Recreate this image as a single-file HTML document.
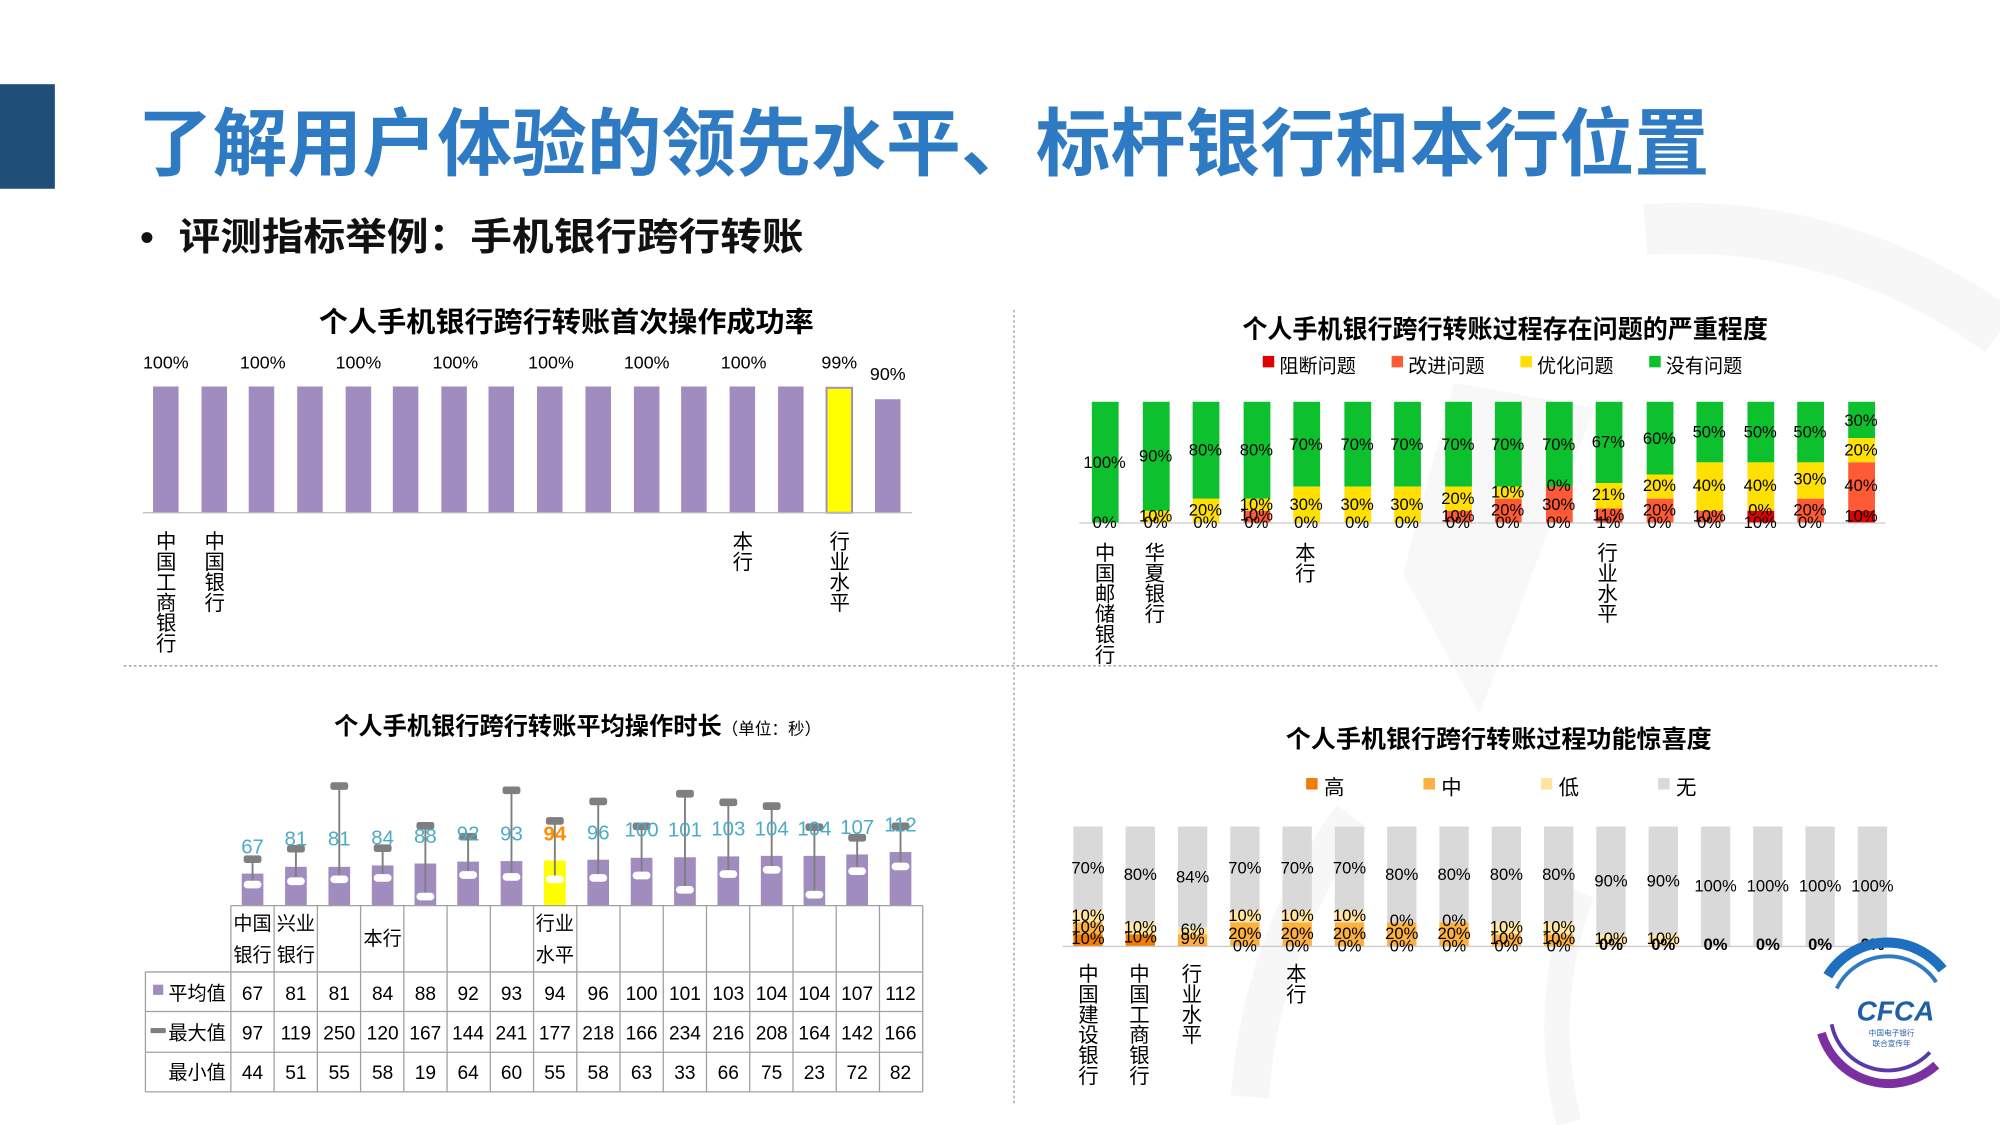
<!DOCTYPE html>
<html><head><meta charset="utf-8"><style>
html,body{margin:0;padding:0;background:#fff;}
svg{display:block;font-family:"Liberation Sans","Noto Sans CJK SC",sans-serif;}
.v{writing-mode:vertical-rl;font-size:16px;fill:#000;}
.s{font-size:13px;fill:#000;text-anchor:middle;}
.t{font-size:15px;fill:#000;text-anchor:middle;}
.l{font-size:16px;fill:#4bacc6;text-anchor:middle;}
</style></head><body>
<svg width="2000" height="1125" viewBox="0 0 1568 882" xmlns="http://www.w3.org/2000/svg">
<rect width="1568" height="882" fill="#fff"/>
<g fill="none" stroke="#f7f7f7">
<path d="M1290 180 A420 420 0 0 1 1568 260" stroke-width="40"/>
<path d="M1100 450 L1140 300 L1250 320 L1160 560 Z" fill="#f8f8f8" stroke="none"/>
<path d="M980 860 A420 420 0 0 1 1060 640" stroke-width="30"/>
<path d="M1230 880 A300 300 0 0 1 1240 700" stroke-width="20"/>
</g>
<rect x="0" y="66" width="43" height="82" fill="#1f4e79"/>
<text x="108" y="133" font-size="58" font-weight="bold" fill="#2e7bc4" textLength="1232" lengthAdjust="spacingAndGlyphs">了解用户体验的领先水平、标杆银行和本行位置</text>
<text x="110" y="196" font-size="30" font-weight="bold" fill="#111">•</text>
<text x="140" y="196" font-size="30" font-weight="bold" fill="#111" textLength="490" lengthAdjust="spacingAndGlyphs">评测指标举例：手机银行跨行转账</text>
<line x1="97" y1="522" x2="1520" y2="522" stroke="#999" stroke-dasharray="2,2"/>
<line x1="795" y1="243" x2="795" y2="865" stroke="#999" stroke-dasharray="2,2"/>

<!-- Chart 1 -->
<text x="444" y="260" font-size="22" font-weight="bold" text-anchor="middle" textLength="388" lengthAdjust="spacingAndGlyphs">个人手机银行跨行转账首次操作成功率</text>
<g fill="#a08cbf">
<rect x="120" y="303" width="20" height="99"/><rect x="158" y="303" width="20" height="99"/><rect x="195" y="303" width="20" height="99"/><rect x="233" y="303" width="20" height="99"/><rect x="271" y="303" width="20" height="99"/><rect x="308" y="303" width="20" height="99"/><rect x="346" y="303" width="20" height="99"/><rect x="383" y="303" width="20" height="99"/><rect x="421" y="303" width="20" height="99"/><rect x="459" y="303" width="20" height="99"/><rect x="497" y="303" width="20" height="99"/><rect x="534" y="303" width="20" height="99"/><rect x="572" y="303" width="20" height="99"/><rect x="610" y="303" width="20" height="99"/><rect x="686" y="313" width="20" height="89"/>
</g>
<rect x="648" y="304" width="20" height="98" fill="#ffff00" stroke="#a08cbf" stroke-width="1.5"/>
<line x1="112" y1="402" x2="715" y2="402" stroke="#bbb"/>
<g font-size="14" text-anchor="middle">
<text x="130" y="289">100%</text><text x="206" y="289">100%</text><text x="281" y="289">100%</text><text x="357" y="289">100%</text><text x="432" y="289">100%</text><text x="507" y="289">100%</text><text x="583" y="289">100%</text><text x="658" y="289">99%</text><text x="696" y="298">90%</text>
</g>
<text class="v" x="128" y="416">中国工商银行</text>
<text class="v" x="166" y="416">中国银行</text>
<text class="v" x="580" y="416">本行</text>
<text class="v" x="656" y="416">行业水平</text>

<!-- Chart 2 -->
<text x="1180" y="265" font-size="20" font-weight="bold" text-anchor="middle" textLength="412" lengthAdjust="spacingAndGlyphs">个人手机银行跨行转账过程存在问题的严重程度</text>
<g font-size="15">
<rect x="990" y="279" width="9" height="9" fill="#e00000"/><text x="1003" y="292">阻断问题</text>
<rect x="1091" y="279" width="9" height="9" fill="#ff5a36"/><text x="1104" y="292">改进问题</text>
<rect x="1192" y="279" width="9" height="9" fill="#ffe000"/><text x="1205" y="292">优化问题</text>
<rect x="1293" y="279" width="9" height="9" fill="#0cc02e"/><text x="1306" y="292">没有问题</text>
</g>
<g fill="#0cc02e">
<rect x="856" y="315" width="21" height="95"/><rect x="896" y="315" width="21" height="85.5"/><rect x="935" y="315" width="21" height="76"/><rect x="975" y="315" width="21" height="76"/><rect x="1014" y="315" width="21" height="66.5"/><rect x="1054" y="315" width="21" height="66.5"/><rect x="1093" y="315" width="21" height="66.5"/><rect x="1133" y="315" width="21" height="66.5"/><rect x="1172" y="315" width="21" height="66.5"/><rect x="1212" y="315" width="21" height="66.5"/><rect x="1251" y="315" width="21" height="63.7"/><rect x="1291" y="315" width="21" height="57"/><rect x="1330" y="315" width="21" height="47.5"/><rect x="1370" y="315" width="21" height="47.5"/><rect x="1409" y="315" width="21" height="47.5"/><rect x="1449" y="315" width="21" height="28.5"/>
</g>
<g fill="#ffe000">
<rect x="896" y="400.5" width="21" height="9.5"/><rect x="935" y="391" width="21" height="19"/><rect x="975" y="391" width="21" height="9.5"/><rect x="1014" y="381.5" width="21" height="28.5"/><rect x="1054" y="381.5" width="21" height="28.5"/><rect x="1093" y="381.5" width="21" height="28.5"/><rect x="1133" y="381.5" width="21" height="19"/><rect x="1172" y="381.5" width="21" height="9.5"/><rect x="1251" y="378.7" width="21" height="19.9"/><rect x="1291" y="372" width="21" height="19"/><rect x="1330" y="362.5" width="21" height="38"/><rect x="1370" y="362.5" width="21" height="38"/><rect x="1409" y="362.5" width="21" height="28.5"/><rect x="1449" y="343.5" width="21" height="19"/>
</g>
<g fill="#ff5a36">
<rect x="975" y="400.5" width="21" height="9.5"/><rect x="1133" y="400.5" width="21" height="9.5"/><rect x="1172" y="391" width="21" height="19"/><rect x="1212" y="381.5" width="21" height="28.5"/><rect x="1251" y="398.6" width="21" height="10.4"/><rect x="1291" y="391" width="21" height="19"/><rect x="1330" y="400.5" width="21" height="9.5"/><rect x="1409" y="391" width="21" height="19"/><rect x="1449" y="362.5" width="21" height="38"/>
</g>
<g fill="#e00000">
<rect x="1251" y="409" width="21" height="1"/><rect x="1370" y="400.5" width="21" height="9.5"/><rect x="1449" y="400.5" width="21" height="9.5"/>
</g>
<line x1="846" y1="410" x2="1478" y2="410" stroke="#ccc"/>
<g>
<text class="s" x="866" y="367">100%</text><text class="s" x="906" y="362">90%</text><text class="s" x="945" y="357">80%</text><text class="s" x="985" y="357">80%</text><text class="s" x="1024" y="353">70%</text><text class="s" x="1064" y="353">70%</text><text class="s" x="1103" y="353">70%</text><text class="s" x="1143" y="353">70%</text><text class="s" x="1182" y="353">70%</text><text class="s" x="1222" y="353">70%</text><text class="s" x="1261" y="351">67%</text><text class="s" x="1301" y="348">60%</text><text class="s" x="1340" y="343">50%</text><text class="s" x="1380" y="343">50%</text><text class="s" x="1419" y="343">50%</text><text class="s" x="1459" y="334">30%</text>
<text class="s" x="906" y="409">10%</text><text class="s" x="945" y="404">20%</text><text class="s" x="985" y="400">10%</text><text class="s" x="985" y="408">10%</text><text class="s" x="1024" y="400">30%</text><text class="s" x="1064" y="400">30%</text><text class="s" x="1103" y="400">30%</text><text class="s" x="1143" y="395">20%</text><text class="s" x="1143" y="409">10%</text><text class="s" x="1182" y="390">10%</text><text class="s" x="1182" y="404">20%</text><text class="s" x="1222" y="385">0%</text><text class="s" x="1222" y="400">30%</text><text class="s" x="1261" y="392">21%</text><text class="s" x="1261" y="408">11%</text><text class="s" x="1301" y="385">20%</text><text class="s" x="1301" y="404">20%</text><text class="s" x="1340" y="385">40%</text><text class="s" x="1340" y="409">10%</text><text class="s" x="1380" y="385">40%</text><text class="s" x="1380" y="404">0%</text><text class="s" x="1419" y="380">30%</text><text class="s" x="1419" y="404">20%</text><text class="s" x="1459" y="357">20%</text><text class="s" x="1459" y="385">40%</text><text class="s" x="1459" y="409">10%</text>
<text class="s" x="866" y="414">0%</text><text class="s" x="906" y="414">0%</text><text class="s" x="945" y="414">0%</text><text class="s" x="985" y="414">0%</text><text class="s" x="1024" y="414">0%</text><text class="s" x="1064" y="414">0%</text><text class="s" x="1103" y="414">0%</text><text class="s" x="1143" y="414">0%</text><text class="s" x="1182" y="414">0%</text><text class="s" x="1222" y="414">0%</text><text class="s" x="1261" y="414">1%</text><text class="s" x="1301" y="414">0%</text><text class="s" x="1340" y="414">0%</text><text class="s" x="1380" y="414">10%</text><text class="s" x="1419" y="414">0%</text>
</g>
<text class="v" x="864" y="425">中国邮储银行</text>
<text class="v" x="903" y="425">华夏银行</text>
<text class="v" x="1021" y="425">本行</text>
<text class="v" x="1258" y="425">行业水平</text>

<!-- Chart 3 -->
<text x="262" y="576" font-size="19" font-weight="bold">个人手机银行跨行转账平均操作时长<tspan font-size="13" font-weight="normal">（单位：秒）</tspan></text>
<g fill="#a08cbf">
<rect x="189.5" y="684.9" width="17" height="25.1"/><rect x="223.5" y="679.6" width="17" height="30.4"/><rect x="257.5" y="679.6" width="17" height="30.4"/><rect x="291.5" y="678.5" width="17" height="31.5"/><rect x="325" y="677" width="17" height="33"/><rect x="358.5" y="675.5" width="17" height="34.5"/><rect x="392.5" y="675.1" width="17" height="34.9"/><rect x="460.5" y="674" width="17" height="36"/><rect x="494.5" y="672.5" width="17" height="37.5"/><rect x="528.5" y="672.1" width="17" height="37.9"/><rect x="562.5" y="671.4" width="17" height="38.6"/><rect x="596.5" y="671" width="17" height="39"/><rect x="630" y="671" width="17" height="39"/><rect x="663.5" y="669.9" width="17" height="40.1"/><rect x="697.5" y="668" width="17" height="42"/>
</g>
<rect x="426.5" y="674.7" width="17" height="35.3" fill="#ffff00"/>
<g stroke="#7f7f7f" stroke-width="1.5">
<line x1="198" y1="673.6" x2="198" y2="693.5"/><line x1="232" y1="665.4" x2="232" y2="690.9"/><line x1="266" y1="616.3" x2="266" y2="689.4"/><line x1="300" y1="665" x2="300" y2="688.3"/><line x1="333.5" y1="647.4" x2="333.5" y2="702.9"/><line x1="367" y1="656" x2="367" y2="686"/><line x1="401" y1="619.6" x2="401" y2="687.5"/><line x1="435" y1="643.6" x2="435" y2="689.4"/><line x1="469" y1="628.3" x2="469" y2="688.3"/><line x1="503" y1="647.8" x2="503" y2="686.4"/><line x1="537" y1="622.3" x2="537" y2="697.6"/><line x1="571" y1="629" x2="571" y2="685.3"/><line x1="605" y1="632" x2="605" y2="681.9"/><line x1="638.5" y1="648.5" x2="638.5" y2="701.4"/><line x1="672" y1="656.8" x2="672" y2="683"/><line x1="706" y1="647.8" x2="706" y2="679.3"/>
</g>
<g fill="#7f7f7f">
<rect x="191" y="670.6" width="14" height="6" rx="2"/><rect x="225" y="662.4" width="14" height="6" rx="2"/><rect x="259" y="613.3" width="14" height="6" rx="2"/><rect x="293" y="662" width="14" height="6" rx="2"/><rect x="326.5" y="644.4" width="14" height="6" rx="2"/><rect x="360" y="653" width="14" height="6" rx="2"/><rect x="394" y="616.6" width="14" height="6" rx="2"/><rect x="428" y="640.6" width="14" height="6" rx="2"/><rect x="462" y="625.3" width="14" height="6" rx="2"/><rect x="496" y="644.8" width="14" height="6" rx="2"/><rect x="530" y="619.3" width="14" height="6" rx="2"/><rect x="564" y="626" width="14" height="6" rx="2"/><rect x="598" y="629" width="14" height="6" rx="2"/><rect x="631.5" y="645.5" width="14" height="6" rx="2"/><rect x="665" y="653.8" width="14" height="6" rx="2"/><rect x="699" y="644.8" width="14" height="6" rx="2"/>
</g>
<g fill="#fff">
<rect x="191" y="690.5" width="14" height="6" rx="3"/><rect x="225" y="687.9" width="14" height="6" rx="3"/><rect x="259" y="686.4" width="14" height="6" rx="3"/><rect x="293" y="685.3" width="14" height="6" rx="3"/><rect x="326.5" y="699.9" width="14" height="6" rx="3"/><rect x="360" y="683" width="14" height="6" rx="3"/><rect x="394" y="684.5" width="14" height="6" rx="3"/><rect x="428" y="686.4" width="14" height="6" rx="3"/><rect x="462" y="685.3" width="14" height="6" rx="3"/><rect x="496" y="683.4" width="14" height="6" rx="3"/><rect x="530" y="694.6" width="14" height="6" rx="3"/><rect x="564" y="682.3" width="14" height="6" rx="3"/><rect x="598" y="678.9" width="14" height="6" rx="3"/><rect x="631.5" y="698.4" width="14" height="6" rx="3"/><rect x="665" y="680" width="14" height="6" rx="3"/><rect x="699" y="676.3" width="14" height="6" rx="3"/>
</g>
<g>
<text class="l" x="198" y="669">67</text><text class="l" x="232" y="663">81</text><text class="l" x="266" y="663">81</text><text class="l" x="300" y="662">84</text><text class="l" x="333.5" y="661">88</text><text class="l" x="367" y="659">92</text><text class="l" x="401" y="659">93</text><text class="l" x="435" y="659" style="fill:#ff8c00;font-weight:bold">94</text><text class="l" x="469" y="658">96</text><text class="l" x="503" y="656">100</text><text class="l" x="537" y="656">101</text><text class="l" x="571" y="655">103</text><text class="l" x="605" y="655">104</text><text class="l" x="638.5" y="655">104</text><text class="l" x="672" y="654">107</text><text class="l" x="706" y="652">112</text>
</g>
<g stroke="#a0a0a0" stroke-width="1">
<line x1="181" y1="710" x2="723.4" y2="710"/><line x1="114" y1="762" x2="723.4" y2="762"/><line x1="114" y1="793" x2="723.4" y2="793"/><line x1="114" y1="825" x2="723.4" y2="825"/><line x1="114" y1="856" x2="723.4" y2="856"/>
<line x1="114" y1="762" x2="114" y2="856"/>
<line x1="181" y1="710" x2="181" y2="856"/><line x1="214.9" y1="710" x2="214.9" y2="856"/><line x1="248.8" y1="710" x2="248.8" y2="856"/><line x1="282.7" y1="710" x2="282.7" y2="856"/><line x1="316.6" y1="710" x2="316.6" y2="856"/><line x1="350.5" y1="710" x2="350.5" y2="856"/><line x1="384.4" y1="710" x2="384.4" y2="856"/><line x1="418.3" y1="710" x2="418.3" y2="856"/><line x1="452.2" y1="710" x2="452.2" y2="856"/><line x1="486.1" y1="710" x2="486.1" y2="856"/><line x1="520" y1="710" x2="520" y2="856"/><line x1="553.9" y1="710" x2="553.9" y2="856"/><line x1="587.8" y1="710" x2="587.8" y2="856"/><line x1="621.7" y1="710" x2="621.7" y2="856"/><line x1="655.6" y1="710" x2="655.6" y2="856"/><line x1="689.5" y1="710" x2="689.5" y2="856"/><line x1="723.4" y1="710" x2="723.4" y2="856"/>
</g>
<g>
<text class="t" x="198" y="729">中国</text><text class="t" x="198" y="754">银行</text><text class="t" x="232" y="729">兴业</text><text class="t" x="232" y="754">银行</text><text class="t" x="300" y="741">本行</text><text class="t" x="435" y="729">行业</text><text class="t" x="435" y="754">水平</text>
</g>
<rect x="120" y="772" width="8" height="8" fill="#a08cbf"/>
<rect x="118" y="806" width="12" height="4" rx="1" fill="#7f7f7f"/>
<g font-size="15" text-anchor="end"><text x="177" y="784">平均值</text><text x="177" y="815">最大值</text><text x="177" y="846">最小值</text></g>
<g>
<text class="t" x="198" y="784">67</text><text class="t" x="232" y="784">81</text><text class="t" x="266" y="784">81</text><text class="t" x="300" y="784">84</text><text class="t" x="333.5" y="784">88</text><text class="t" x="367" y="784">92</text><text class="t" x="401" y="784">93</text><text class="t" x="435" y="784">94</text><text class="t" x="469" y="784">96</text><text class="t" x="503" y="784">100</text><text class="t" x="537" y="784">101</text><text class="t" x="571" y="784">103</text><text class="t" x="605" y="784">104</text><text class="t" x="638.5" y="784">104</text><text class="t" x="672" y="784">107</text><text class="t" x="706" y="784">112</text>
<text class="t" x="198" y="815">97</text><text class="t" x="232" y="815">119</text><text class="t" x="266" y="815">250</text><text class="t" x="300" y="815">120</text><text class="t" x="333.5" y="815">167</text><text class="t" x="367" y="815">144</text><text class="t" x="401" y="815">241</text><text class="t" x="435" y="815">177</text><text class="t" x="469" y="815">218</text><text class="t" x="503" y="815">166</text><text class="t" x="537" y="815">234</text><text class="t" x="571" y="815">216</text><text class="t" x="605" y="815">208</text><text class="t" x="638.5" y="815">164</text><text class="t" x="672" y="815">142</text><text class="t" x="706" y="815">166</text>
<text class="t" x="198" y="846">44</text><text class="t" x="232" y="846">51</text><text class="t" x="266" y="846">55</text><text class="t" x="300" y="846">58</text><text class="t" x="333.5" y="846">19</text><text class="t" x="367" y="846">64</text><text class="t" x="401" y="846">60</text><text class="t" x="435" y="846">55</text><text class="t" x="469" y="846">58</text><text class="t" x="503" y="846">63</text><text class="t" x="537" y="846">33</text><text class="t" x="571" y="846">66</text><text class="t" x="605" y="846">75</text><text class="t" x="638.5" y="846">23</text><text class="t" x="672" y="846">72</text><text class="t" x="706" y="846">82</text>
</g>

<!-- Chart 4 -->
<text x="1175" y="586" font-size="19" font-weight="bold" text-anchor="middle" textLength="334" lengthAdjust="spacingAndGlyphs">个人手机银行跨行转账过程功能惊喜度</text>
<g font-size="16">
<rect x="1024" y="610" width="9" height="9" fill="#f07d00"/><text x="1038" y="623">高</text>
<rect x="1116" y="610" width="9" height="9" fill="#fbb040"/><text x="1130" y="623">中</text>
<rect x="1208" y="610" width="9" height="9" fill="#ffe5a0"/><text x="1222" y="623">低</text>
<rect x="1300" y="610" width="9" height="9" fill="#d9d9d9"/><text x="1314" y="623">无</text>
</g>
<g fill="#d9d9d9">
<rect x="841.5" y="648" width="23" height="65.8"/><rect x="882.5" y="648" width="23" height="75.2"/><rect x="923.5" y="648" width="23" height="79"/><rect x="964.5" y="648" width="23" height="65.8"/><rect x="1005.5" y="648" width="23" height="65.8"/><rect x="1046.5" y="648" width="23" height="65.8"/><rect x="1087.5" y="648" width="23" height="75.2"/><rect x="1128.5" y="648" width="23" height="75.2"/><rect x="1169.5" y="648" width="23" height="75.2"/><rect x="1210.5" y="648" width="23" height="75.2"/><rect x="1251.5" y="648" width="23" height="84.6"/><rect x="1292.5" y="648" width="23" height="84.6"/><rect x="1333.5" y="648" width="23" height="94"/><rect x="1374.5" y="648" width="23" height="94"/><rect x="1415.5" y="648" width="23" height="94"/><rect x="1456.5" y="648" width="23" height="94"/>
</g>
<g fill="#ffe5a0">
<rect x="841.5" y="713.8" width="23" height="9.4"/><rect x="882.5" y="723.2" width="23" height="9.4"/><rect x="923.5" y="727" width="23" height="5.6"/><rect x="964.5" y="713.8" width="23" height="9.4"/><rect x="1005.5" y="713.8" width="23" height="9.4"/><rect x="1046.5" y="713.8" width="23" height="9.4"/><rect x="1169.5" y="723.2" width="23" height="9.4"/><rect x="1210.5" y="723.2" width="23" height="9.4"/><rect x="1251.5" y="732.6" width="23" height="9.4"/><rect x="1292.5" y="732.6" width="23" height="9.4"/>
</g>
<g fill="#fbb040">
<rect x="841.5" y="723.2" width="23" height="9.4"/><rect x="923.5" y="732.6" width="23" height="8.4"/><rect x="964.5" y="723.2" width="23" height="18.8"/><rect x="1005.5" y="723.2" width="23" height="18.8"/><rect x="1046.5" y="723.2" width="23" height="18.8"/><rect x="1087.5" y="723.2" width="23" height="18.8"/><rect x="1128.5" y="723.2" width="23" height="18.8"/><rect x="1169.5" y="732.6" width="23" height="9.4"/><rect x="1210.5" y="732.6" width="23" height="9.4"/>
</g>
<g fill="#f07d00">
<rect x="841.5" y="732.6" width="23" height="9.4"/><rect x="882.5" y="732.6" width="23" height="9.4"/><rect x="923.5" y="741" width="23" height="1"/>
</g>
<line x1="833" y1="742" x2="1480" y2="742" stroke="#ccc"/>
<g>
<text class="s" x="853" y="685">70%</text><text class="s" x="894" y="690">80%</text><text class="s" x="935" y="692">84%</text><text class="s" x="976" y="685">70%</text><text class="s" x="1017" y="685">70%</text><text class="s" x="1058" y="685">70%</text><text class="s" x="1099" y="690">80%</text><text class="s" x="1140" y="690">80%</text><text class="s" x="1181" y="690">80%</text><text class="s" x="1222" y="690">80%</text><text class="s" x="1263" y="695">90%</text><text class="s" x="1304" y="695">90%</text><text class="s" x="1345" y="699">100%</text><text class="s" x="1386" y="699">100%</text><text class="s" x="1427" y="699">100%</text><text class="s" x="1468" y="699">100%</text>
<text class="s" x="853" y="722">10%</text><text class="s" x="853" y="731">10%</text><text class="s" x="853" y="740">10%</text><text class="s" x="894" y="731">10%</text><text class="s" x="894" y="739">10%</text><text class="s" x="935" y="733">6%</text><text class="s" x="935" y="740">9%</text>
<text class="s" x="976" y="722">10%</text><text class="s" x="976" y="736">20%</text><text class="s" x="1017" y="722">10%</text><text class="s" x="1017" y="736">20%</text><text class="s" x="1058" y="722">10%</text><text class="s" x="1058" y="736">20%</text><text class="s" x="1099" y="726">0%</text><text class="s" x="1099" y="736">20%</text><text class="s" x="1140" y="726">0%</text><text class="s" x="1140" y="736">20%</text><text class="s" x="1181" y="731">10%</text><text class="s" x="1181" y="740">10%</text><text class="s" x="1222" y="731">10%</text><text class="s" x="1222" y="740">10%</text><text class="s" x="1263" y="740">10%</text><text class="s" x="1304" y="740">10%</text>
<text class="s" x="976" y="746">0%</text><text class="s" x="1017" y="746">0%</text><text class="s" x="1058" y="746">0%</text><text class="s" x="1099" y="746">0%</text><text class="s" x="1140" y="746">0%</text><text class="s" x="1181" y="746">0%</text><text class="s" x="1222" y="746">0%</text>
<text class="s" x="1263" y="745" font-weight="bold">0%</text><text class="s" x="1304" y="745" font-weight="bold">0%</text><text class="s" x="1345" y="745" font-weight="bold">0%</text><text class="s" x="1386" y="745" font-weight="bold">0%</text><text class="s" x="1427" y="745" font-weight="bold">0%</text><text class="s" x="1468" y="745" font-weight="bold">0%</text>
</g>
<text class="v" x="851" y="755">中国建设银行</text>
<text class="v" x="891" y="755">中国工商银行</text>
<text class="v" x="932" y="755">行业水平</text>
<text class="v" x="1014" y="755">本行</text>

<!-- CFCA logo -->
<g transform="translate(1478,795)">
<path d="M-45 -30 A55 55 0 0 1 45 -35" fill="none" stroke="#1f6fc0" stroke-width="8"/>
<path d="M-50 15 A55 55 0 0 0 40 40" fill="none" stroke="#7b2fa0" stroke-width="7"/>
<path d="M-38 -20 A45 45 0 0 1 40 -25" fill="none" stroke="#2e7bc4" stroke-width="3"/>
<path d="M-42 8 A45 45 0 0 0 35 30" fill="none" stroke="#5a3aa8" stroke-width="3"/>
<text x="8" y="5" font-size="22" font-weight="bold" font-style="italic" fill="#1f5fa8" text-anchor="middle">CFCA</text>
<text x="5" y="17" font-size="6" fill="#1f5fa8" text-anchor="middle">中国电子银行</text>
<text x="5" y="25" font-size="6" fill="#1f5fa8" text-anchor="middle">联合宣传年</text>
</g>
</svg>
</body></html>
